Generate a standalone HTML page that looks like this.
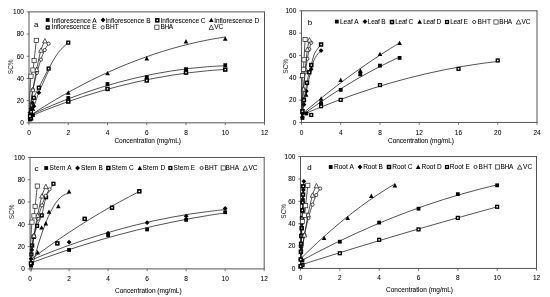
<!DOCTYPE html>
<html lang="en">
<head>
<meta charset="utf-8">
<title>SC% vs Concentration</title>
<style>
html,body{margin:0;padding:0;background:#fff;}
body{width:550px;height:297px;overflow:hidden;}
svg{display:block;}
svg text{font-family:"Liberation Sans",Arial,Helvetica,sans-serif;font-size:6.5px;fill:#000;stroke:#000;stroke-width:0.05px;}
</style>
</head>
<body>
<svg width="550" height="297" viewBox="0 0 550 297">
<rect x="0" y="0" width="550" height="297" fill="#fff"/>
<g class="panel">
<path d="M28.5,11.9H265M28.5,122.85H265M29,11.9V122.85M264.5,11.9V122.85" stroke="#545454" stroke-width="1" fill="none"/>
<path d="M26.7,122.85H29M26.7,100.66H29M26.7,78.47H29M26.7,56.28H29M26.7,34.09H29M26.7,11.9H29M29,122.85V125.15M68.25,122.85V125.15M107.5,122.85V125.15M146.75,122.85V125.15M186,122.85V125.15M225.25,122.85V125.15M264.5,122.85V125.15" stroke="#555" stroke-width="0.8" fill="none"/>
<text x="23.9" y="125.2" text-anchor="end">0</text>
<text x="23.9" y="103.01" text-anchor="end">20</text>
<text x="23.9" y="80.82" text-anchor="end">40</text>
<text x="23.9" y="58.63" text-anchor="end">60</text>
<text x="23.9" y="36.44" text-anchor="end">80</text>
<text x="23.9" y="14.25" text-anchor="end">100</text>
<text x="29" y="135.35" text-anchor="middle">0</text>
<text x="68.25" y="135.35" text-anchor="middle">2</text>
<text x="107.5" y="135.35" text-anchor="middle">4</text>
<text x="146.75" y="135.35" text-anchor="middle">6</text>
<text x="186" y="135.35" text-anchor="middle">8</text>
<text x="225.25" y="135.35" text-anchor="middle">10</text>
<text x="264.5" y="135.35" text-anchor="middle">12</text>
<text x="114.4" y="143.3" textLength="66.6" lengthAdjust="spacing">Concentration (mg/mL)</text>
<text transform="translate(12.6,66.8) rotate(-90)" text-anchor="middle" style="fill:#222;stroke:none">SC%</text>
<text x="34" y="26.8" style="font-size:7.9px">a</text>
<path d="M29,115.64C31.97,114.29 40.89,110.15 46.84,107.58C52.79,105.01 58.73,102.55 64.68,100.22C70.63,97.88 76.58,95.67 82.52,93.57C88.47,91.47 94.42,89.48 100.36,87.62C106.31,85.75 112.26,84.01 118.2,82.38C124.15,80.75 130.1,79.23 136.05,77.84C141.99,76.44 147.94,75.16 153.89,74C159.83,72.84 165.78,71.8 171.73,70.88C177.67,69.95 183.62,69.14 189.57,68.45C195.52,67.76 201.46,67.19 207.41,66.73C213.36,66.27 222.28,65.88 225.25,65.72" stroke="#1a1a1a" stroke-width="0.75" fill="none"/>
<rect x="28.08" y="117.62" width="3.8" height="3.8" fill="#000"/><rect x="29.06" y="115.4" width="3.8" height="3.8" fill="#000"/><rect x="31.02" y="113.18" width="3.8" height="3.8" fill="#000"/><rect x="66.35" y="96.1" width="3.8" height="3.8" fill="#000"/><rect x="105.6" y="82.12" width="3.8" height="3.8" fill="#000"/><rect x="144.85" y="75.35" width="3.8" height="3.8" fill="#000"/><rect x="184.1" y="67.25" width="3.8" height="3.8" fill="#000"/><rect x="223.35" y="63.26" width="3.8" height="3.8" fill="#000"/>
<path d="M29,116.75C31.97,115.54 40.89,111.81 46.84,109.49C52.79,107.16 58.73,104.94 64.68,102.82C70.63,100.69 76.58,98.66 82.52,96.74C88.47,94.81 94.42,92.98 100.36,91.25C106.31,89.52 112.26,87.89 118.2,86.36C124.15,84.82 130.1,83.39 136.05,82.06C141.99,80.72 147.94,79.48 153.89,78.35C159.83,77.21 165.78,76.17 171.73,75.23C177.67,74.29 183.62,73.45 189.57,72.7C195.52,71.96 201.46,71.32 207.41,70.77C213.36,70.23 222.28,69.65 225.25,69.43" stroke="#1a1a1a" stroke-width="0.75" fill="none"/>
<rect x="28.71" y="116.16" width="4.5" height="4.5" fill="#000"/><rect x="30.26" y="117.71" width="1.4" height="1.4" fill="#fff"/><rect x="66" y="99.3" width="4.5" height="4.5" fill="#000"/><rect x="67.55" y="100.85" width="1.4" height="1.4" fill="#fff"/><rect x="105.25" y="86.65" width="4.5" height="4.5" fill="#000"/><rect x="106.8" y="88.2" width="1.4" height="1.4" fill="#fff"/><rect x="144.5" y="78.22" width="4.5" height="4.5" fill="#000"/><rect x="146.05" y="79.77" width="1.4" height="1.4" fill="#fff"/><rect x="183.75" y="70.34" width="4.5" height="4.5" fill="#000"/><rect x="185.3" y="71.89" width="1.4" height="1.4" fill="#fff"/><rect x="223" y="67.34" width="4.5" height="4.5" fill="#000"/><rect x="224.55" y="68.89" width="1.4" height="1.4" fill="#fff"/>
<path d="M29,116.19C31.97,114.31 40.89,108.5 46.84,104.87C52.79,101.23 58.73,97.73 64.68,94.37C70.63,91 76.58,87.78 82.52,84.69C88.47,81.6 94.42,78.65 100.36,75.84C106.31,73.02 112.26,70.35 118.2,67.81C124.15,65.27 130.1,62.87 136.05,60.61C141.99,58.34 147.94,56.22 153.89,54.23C159.83,52.24 165.78,50.39 171.73,48.67C177.67,46.96 183.62,45.38 189.57,43.94C195.52,42.5 201.46,41.2 207.41,40.04C213.36,38.87 222.28,37.47 225.25,36.96" stroke="#1a1a1a" stroke-width="0.75" fill="none"/>
<polygon points="29.98,113.99 32.28,118.39 27.68,118.39" fill="#000"/><polygon points="30.96,110.66 33.26,115.06 28.66,115.06" fill="#000"/><polygon points="32.92,106.23 35.22,110.63 30.62,110.63" fill="#000"/><polygon points="68.25,90.36 70.55,94.76 65.95,94.76" fill="#000"/><polygon points="107.5,70.94 109.8,75.34 105.2,75.34" fill="#000"/><polygon points="146.75,56.08 149.05,60.48 144.45,60.48" fill="#000"/><polygon points="186,39.1 188.3,43.5 183.7,43.5" fill="#000"/><polygon points="225.25,36.33 227.55,40.73 222.95,40.73" fill="#000"/>
<path d="M29.98,112.86C30.14,112.31 30.31,110.65 30.96,109.54C31.62,108.43 32.6,109.02 33.91,106.21C35.21,103.4 36.36,98.59 38.81,92.67C41.27,86.75 46.99,74.36 48.62,70.7" stroke="#1a1a1a" stroke-width="0.75" fill="none"/>
<polygon points="29.98,110.46 32.38,112.86 29.98,115.26 27.58,112.86" fill="#000"/><polygon points="30.96,106.03 33.36,108.43 30.96,110.83 28.56,108.43" fill="#000"/><polygon points="32.53,100.48 34.93,102.88 32.53,105.28 30.13,102.88" fill="#000"/><polygon points="33.91,103.81 36.31,106.21 33.91,108.61 31.51,106.21" fill="#000"/><polygon points="38.81,90.27 41.21,92.67 38.81,95.07 36.41,92.67" fill="#000"/>
<path d="M29.98,116.19C30.14,115.45 30.31,114.82 30.96,111.75C31.62,108.69 32.6,101.79 33.91,97.78C35.21,93.76 36.36,92.54 38.81,87.68C41.27,82.82 45.35,74.48 48.62,68.6C51.9,62.72 55.17,56.72 58.44,52.4C61.71,48.07 66.61,44.26 68.25,42.63" stroke="#1a1a1a" stroke-width="0.75" fill="none"/>
<rect x="27.88" y="114.09" width="4.2" height="4.2" fill="#000"/><rect x="29.23" y="115.44" width="1.5" height="1.5" fill="#fff"/><rect x="28.86" y="109.66" width="4.2" height="4.2" fill="#000"/><rect x="30.21" y="111" width="1.5" height="1.5" fill="#fff"/><rect x="31.81" y="95.68" width="4.2" height="4.2" fill="#000"/><rect x="33.16" y="97.03" width="1.5" height="1.5" fill="#fff"/><rect x="36.71" y="85.58" width="4.2" height="4.2" fill="#000"/><rect x="38.06" y="86.93" width="1.5" height="1.5" fill="#fff"/><rect x="46.52" y="66.5" width="4.2" height="4.2" fill="#000"/><rect x="47.88" y="67.85" width="1.5" height="1.5" fill="#fff"/><rect x="66.15" y="40.53" width="4.2" height="4.2" fill="#000"/><rect x="67.5" y="41.88" width="1.5" height="1.5" fill="#fff"/>
<path d="M29.98,109.54C30.14,108.43 30.47,106.21 30.96,102.88C31.45,99.55 31.94,94.56 32.92,89.56C33.91,84.57 35.51,77.92 36.85,72.92C38.19,67.93 39.66,63.42 40.97,59.61C42.28,55.8 43.42,52.73 44.7,50.07C45.98,47.4 47.97,44.7 48.62,43.63" stroke="#1a1a1a" stroke-width="0.75" fill="none"/>
<circle cx="32.92" cy="89.56" r="1.6" fill="#fff" stroke="#111" stroke-width="0.75"/><circle cx="36.85" cy="72.92" r="1.6" fill="#fff" stroke="#111" stroke-width="0.75"/><circle cx="40.97" cy="59.61" r="1.6" fill="#fff" stroke="#111" stroke-width="0.75"/><circle cx="44.7" cy="50.07" r="1.6" fill="#fff" stroke="#111" stroke-width="0.75"/><circle cx="48.62" cy="43.63" r="1.6" fill="#fff" stroke="#111" stroke-width="0.75"/>
<path d="M29.98,111.75C30.14,110.28 30.47,106.58 30.96,102.88C31.45,99.18 31.98,95.15 32.92,89.56C33.87,83.98 35.31,75.96 36.65,69.37C37.99,62.79 39.6,54.84 40.97,50.07C42.34,45.3 44.24,42.3 44.9,40.75" stroke="#1a1a1a" stroke-width="0.75" fill="none"/>
<polygon points="32.92,87.36 35.22,91.77 30.62,91.77" fill="#fff" stroke="#111" stroke-width="0.7"/><polygon points="36.65,67.17 38.95,71.57 34.35,71.57" fill="#fff" stroke="#111" stroke-width="0.7"/><polygon points="40.97,47.87 43.27,52.27 38.67,52.27" fill="#fff" stroke="#111" stroke-width="0.7"/><polygon points="44.9,38.55 47.2,42.95 42.6,42.95" fill="#fff" stroke="#111" stroke-width="0.7"/>
<path d="M29.39,107.32C29.49,104.73 29.72,96.96 29.98,91.78C30.24,86.61 30.47,79.88 30.96,76.25C31.45,72.63 32.4,72.65 32.92,70.04C33.45,67.43 33.55,65.54 34.1,60.61C34.66,55.67 35.9,43.78 36.26,40.41" stroke="#1a1a1a" stroke-width="0.75" fill="none"/>
<rect x="28.86" y="74.15" width="4.2" height="4.2" fill="#fff" stroke="#222" stroke-width="0.7"/><rect x="30.82" y="67.94" width="4.2" height="4.2" fill="#fff" stroke="#222" stroke-width="0.7"/><rect x="32" y="58.51" width="4.2" height="4.2" fill="#fff" stroke="#222" stroke-width="0.7"/><rect x="34.16" y="38.31" width="4.2" height="4.2" fill="#fff" stroke="#222" stroke-width="0.7"/>
<rect x="45.8" y="18.1" width="3.8" height="3.8" fill="#000"/>
<text x="51.55" y="22.5" textLength="45.1" lengthAdjust="spacing">Inflorescence A</text>
<polygon points="103,17.6 105.4,20 103,22.4 100.6,20" fill="#000"/>
<text x="105.55" y="22.5" textLength="45" lengthAdjust="spacing">Inflorescence B</text>
<rect x="155.05" y="18.05" width="4.5" height="4.5" fill="#000"/><rect x="156.6" y="19.6" width="1.4" height="1.4" fill="#fff"/>
<text x="160.55" y="22.5" textLength="45" lengthAdjust="spacing">Inflorescence C</text>
<polygon points="211.3,17.7 213.6,22.1 209,22.1" fill="#000"/>
<text x="214.15" y="22.5" textLength="45" lengthAdjust="spacing">Inflorescence D</text>
<rect x="45.6" y="25.4" width="4.2" height="4.2" fill="#000"/><rect x="46.95" y="26.75" width="1.5" height="1.5" fill="#fff"/>
<text x="51.55" y="29.2" textLength="45.1" lengthAdjust="spacing">Inflorescence E</text>
<circle cx="102.7" cy="27.4" r="1.6" fill="#fff" stroke="#111" stroke-width="0.75"/>
<text x="105.55" y="29.2" textLength="13.2" lengthAdjust="spacing">BHT</text>
<rect x="154.8" y="25.1" width="4.2" height="4.2" fill="#fff" stroke="#222" stroke-width="0.7"/>
<text x="160.55" y="29.2" textLength="12.6" lengthAdjust="spacing">BHA</text>
<polygon points="211.3,25 213.6,29.4 209,29.4" fill="#fff" stroke="#111" stroke-width="0.7"/>
<text x="214.15" y="29.2" textLength="9" lengthAdjust="spacing">VC</text>
</g>
<g class="panel">
<path d="M300.95,10.8H537.5M300.95,122.45H537.5M301.45,10.8V122.45M537,10.8V122.45" stroke="#545454" stroke-width="1" fill="none"/>
<path d="M299.15,122.45H301.45M299.15,100.12H301.45M299.15,77.79H301.45M299.15,55.46H301.45M299.15,33.13H301.45M299.15,10.8H301.45M301.45,122.45V124.75M340.71,122.45V124.75M379.97,122.45V124.75M419.23,122.45V124.75M458.48,122.45V124.75M497.74,122.45V124.75M537,122.45V124.75" stroke="#555" stroke-width="0.8" fill="none"/>
<text x="296.35" y="124.8" text-anchor="end">0</text>
<text x="296.35" y="102.47" text-anchor="end">20</text>
<text x="296.35" y="80.14" text-anchor="end">40</text>
<text x="296.35" y="57.81" text-anchor="end">60</text>
<text x="296.35" y="35.48" text-anchor="end">80</text>
<text x="296.35" y="13.15" text-anchor="end">100</text>
<text x="301.45" y="134.75" text-anchor="middle">0</text>
<text x="340.71" y="134.75" text-anchor="middle">4</text>
<text x="379.97" y="134.75" text-anchor="middle">8</text>
<text x="419.23" y="134.75" text-anchor="middle">12</text>
<text x="458.48" y="134.75" text-anchor="middle">16</text>
<text x="497.74" y="134.75" text-anchor="middle">20</text>
<text x="537" y="134.75" text-anchor="middle">24</text>
<text x="388" y="142.9" textLength="66" lengthAdjust="spacing">Concentration (mg/mL)</text>
<text transform="translate(288,66.3) rotate(-90)" text-anchor="middle" style="fill:#222;stroke:none">SC%</text>
<text x="307.8" y="25" style="font-size:7.9px">b</text>
<path d="M301.45,115.19C304.42,113.94 313.35,110.11 319.29,107.7C325.24,105.29 331.19,102.97 337.14,100.73C343.09,98.5 349.04,96.35 354.98,94.28C360.93,92.22 366.88,90.24 372.83,88.35C378.78,86.46 384.73,84.66 390.67,82.95C396.62,81.23 402.57,79.6 408.52,78.06C414.47,76.51 420.41,75.06 426.36,73.69C432.31,72.32 438.26,71.04 444.21,69.84C450.16,68.65 456.1,67.54 462.05,66.51C468,65.49 473.95,64.56 479.9,63.71C485.85,62.86 494.77,61.8 497.74,61.42" stroke="#1a1a1a" stroke-width="0.75" fill="none"/>
<rect x="309.16" y="112.87" width="4.2" height="4.2" fill="#000"/><rect x="310.51" y="114.22" width="1.5" height="1.5" fill="#fff"/><rect x="318.98" y="104.16" width="4.2" height="4.2" fill="#000"/><rect x="320.33" y="105.51" width="1.5" height="1.5" fill="#fff"/><rect x="338.61" y="97.8" width="4.2" height="4.2" fill="#000"/><rect x="339.96" y="99.15" width="1.5" height="1.5" fill="#fff"/><rect x="377.87" y="82.95" width="4.2" height="4.2" fill="#000"/><rect x="379.22" y="84.3" width="1.5" height="1.5" fill="#fff"/><rect x="456.38" y="66.76" width="4.2" height="4.2" fill="#000"/><rect x="457.73" y="68.11" width="1.5" height="1.5" fill="#fff"/><rect x="495.64" y="58.38" width="4.2" height="4.2" fill="#000"/><rect x="496.99" y="59.73" width="1.5" height="1.5" fill="#fff"/>
<path d="M301.45,115.75C302.94,114.67 307.4,111.37 310.37,109.24C313.35,107.11 316.32,105.02 319.29,102.97C322.27,100.91 325.24,98.9 328.22,96.92C331.19,94.95 334.17,93.01 337.14,91.12C340.11,89.22 343.09,87.36 346.06,85.54C349.04,83.72 352.01,81.94 354.98,80.2C357.96,78.46 360.93,76.76 363.91,75.1C366.88,73.44 369.85,71.81 372.83,70.23C375.8,68.64 378.78,67.1 381.75,65.59C384.73,64.08 387.7,62.62 390.67,61.19C393.65,59.76 398.11,57.72 399.6,57.02" stroke="#1a1a1a" stroke-width="0.75" fill="none"/>
<rect x="300.53" y="116.08" width="3.8" height="3.8" fill="#000"/><rect x="304.46" y="111.62" width="3.8" height="3.8" fill="#000"/><rect x="319.18" y="101.57" width="3.8" height="3.8" fill="#000"/><rect x="338.81" y="87.95" width="3.8" height="3.8" fill="#000"/><rect x="358.44" y="71.42" width="3.8" height="3.8" fill="#000"/><rect x="378.07" y="63.72" width="3.8" height="3.8" fill="#000"/><rect x="397.7" y="56.02" width="3.8" height="3.8" fill="#000"/>
<path d="M301.45,114.63C302.94,113.37 307.4,109.53 310.37,107.04C313.35,104.54 316.32,102.08 319.29,99.66C322.27,97.23 325.24,94.84 328.22,92.49C331.19,90.14 334.17,87.82 337.14,85.54C340.11,83.26 343.09,81.01 346.06,78.8C349.04,76.59 352.01,74.42 354.98,72.28C357.96,70.14 360.93,68.04 363.91,65.97C366.88,63.91 369.85,61.88 372.83,59.88C375.8,57.89 378.78,55.93 381.75,54C384.73,52.08 387.7,50.19 390.67,48.34C393.65,46.49 398.11,43.8 399.6,42.89" stroke="#1a1a1a" stroke-width="0.75" fill="none"/>
<polygon points="302.43,113.55 304.73,117.95 300.13,117.95" fill="#000"/><polygon points="303.61,96.8 305.91,101.2 301.31,101.2" fill="#000"/><polygon points="306.16,92.34 308.46,96.74 303.86,96.74" fill="#000"/><polygon points="321.08,99.59 323.38,103.99 318.78,103.99" fill="#000"/><polygon points="321.08,96.36 323.38,100.76 318.78,100.76" fill="#000"/><polygon points="340.71,77.49 343.01,81.89 338.41,81.89" fill="#000"/><polygon points="360.34,71.79 362.64,76.19 358.04,76.19" fill="#000"/><polygon points="360.34,68.33 362.64,72.73 358.04,72.73" fill="#000"/><polygon points="379.97,51.7 382.27,56.1 377.67,56.1" fill="#000"/><polygon points="399.6,40.64 401.9,45.04 397.3,45.04" fill="#000"/>
<path d="M302.43,113.52C302.68,112.03 303.25,108.31 303.9,104.59C304.56,100.86 305.13,97.09 306.36,91.19C307.58,85.29 309.79,74.78 311.26,69.19C312.74,63.61 313.55,60.8 315.19,57.69C316.83,54.59 320.1,51.74 321.08,50.55" stroke="#1a1a1a" stroke-width="0.75" fill="none"/>
<polygon points="302.43,111.12 304.83,113.52 302.43,115.92 300.03,113.52" fill="#000"/><polygon points="303.9,102.19 306.3,104.59 303.9,106.99 301.5,104.59" fill="#000"/><polygon points="306.36,88.79 308.76,91.19 306.36,93.59 303.96,91.19" fill="#000"/><polygon points="311.26,66.79 313.66,69.19 311.26,71.59 308.86,69.19" fill="#000"/><polygon points="321.08,48.15 323.48,50.55 321.08,52.95 318.68,50.55" fill="#000"/>
<path d="M302.43,111.28C302.68,109.42 303.15,104.87 303.9,100.12C304.66,95.37 306.05,87.47 306.95,82.81C307.85,78.16 308.58,75.17 309.3,72.21C310.02,69.25 310.36,68.23 311.26,65.06C312.16,61.9 313.06,56.65 314.7,53.23C316.34,49.8 320.02,45.97 321.08,44.52" stroke="#1a1a1a" stroke-width="0.75" fill="none"/>
<rect x="300.18" y="109.03" width="4.5" height="4.5" fill="#000"/><rect x="301.73" y="110.58" width="1.4" height="1.4" fill="#fff"/><rect x="301.65" y="97.87" width="4.5" height="4.5" fill="#000"/><rect x="303.2" y="99.42" width="1.4" height="1.4" fill="#fff"/><rect x="304.7" y="80.56" width="4.5" height="4.5" fill="#000"/><rect x="306.25" y="82.11" width="1.4" height="1.4" fill="#fff"/><rect x="307.05" y="69.96" width="4.5" height="4.5" fill="#000"/><rect x="308.6" y="71.51" width="1.4" height="1.4" fill="#fff"/><rect x="309.01" y="62.81" width="4.5" height="4.5" fill="#000"/><rect x="310.56" y="64.36" width="1.4" height="1.4" fill="#fff"/><rect x="318.83" y="42.27" width="4.5" height="4.5" fill="#000"/><rect x="320.38" y="43.82" width="1.4" height="1.4" fill="#fff"/>
<path d="M301.94,109.05C302.02,107.94 302.19,105.7 302.43,102.35C302.68,99 302.92,93.98 303.41,88.96C303.9,83.93 304.71,77.23 305.38,72.21C306.05,67.18 306.78,62.64 307.44,58.81C308.09,54.98 308.66,51.89 309.3,49.21C309.94,46.53 310.94,43.81 311.26,42.73" stroke="#1a1a1a" stroke-width="0.75" fill="none"/>
<circle cx="303.41" cy="88.96" r="1.6" fill="#fff" stroke="#111" stroke-width="0.75"/><circle cx="305.38" cy="72.21" r="1.6" fill="#fff" stroke="#111" stroke-width="0.75"/><circle cx="307.44" cy="58.81" r="1.6" fill="#fff" stroke="#111" stroke-width="0.75"/><circle cx="309.3" cy="49.21" r="1.6" fill="#fff" stroke="#111" stroke-width="0.75"/><circle cx="311.26" cy="42.73" r="1.6" fill="#fff" stroke="#111" stroke-width="0.75"/>
<path d="M301.94,111.28C302.02,109.8 302.19,106.07 302.43,102.35C302.68,98.63 302.94,94.57 303.41,88.96C303.89,83.34 304.61,75.26 305.28,68.63C305.95,62.01 306.75,54.01 307.44,49.21C308.12,44.41 309.07,41.39 309.4,39.83" stroke="#1a1a1a" stroke-width="0.75" fill="none"/>
<polygon points="303.41,86.76 305.71,91.16 301.11,91.16" fill="#fff" stroke="#111" stroke-width="0.7"/><polygon points="305.28,66.43 307.58,70.83 302.98,70.83" fill="#fff" stroke="#111" stroke-width="0.7"/><polygon points="307.44,47.01 309.74,51.41 305.14,51.41" fill="#fff" stroke="#111" stroke-width="0.7"/><polygon points="309.4,37.63 311.7,42.03 307.1,42.03" fill="#fff" stroke="#111" stroke-width="0.7"/>
<path d="M301.65,106.82C301.7,104.21 301.81,96.4 301.94,91.19C302.07,85.98 302.19,79.2 302.43,75.56C302.68,71.91 303.15,71.93 303.41,69.3C303.67,66.68 303.72,64.78 304,59.81C304.28,54.85 304.9,42.88 305.08,39.49" stroke="#1a1a1a" stroke-width="0.75" fill="none"/>
<rect x="300.33" y="73.46" width="4.2" height="4.2" fill="#fff" stroke="#222" stroke-width="0.7"/><rect x="301.31" y="67.2" width="4.2" height="4.2" fill="#fff" stroke="#222" stroke-width="0.7"/><rect x="301.9" y="57.71" width="4.2" height="4.2" fill="#fff" stroke="#222" stroke-width="0.7"/><rect x="302.98" y="37.39" width="4.2" height="4.2" fill="#fff" stroke="#222" stroke-width="0.7"/>
<rect x="334.9" y="19.7" width="3.8" height="3.8" fill="#000"/>
<text x="339.95" y="23.7" textLength="18.6" lengthAdjust="spacing">Leaf A</text>
<polygon points="365,19.2 367.4,21.6 365,24 362.6,21.6" fill="#000"/>
<text x="367.75" y="23.7" textLength="17.8" lengthAdjust="spacing">Leaf B</text>
<rect x="389.75" y="19.75" width="4.5" height="4.5" fill="#000"/><rect x="391.3" y="21.3" width="1.4" height="1.4" fill="#fff"/>
<text x="395.15" y="23.7" textLength="18" lengthAdjust="spacing">Leaf C</text>
<polygon points="419.7,19.4 422,23.8 417.4,23.8" fill="#000"/>
<text x="423.15" y="23.7" textLength="18" lengthAdjust="spacing">Leaf D</text>
<rect x="444.9" y="19.9" width="4.2" height="4.2" fill="#000"/><rect x="446.25" y="21.25" width="1.5" height="1.5" fill="#fff"/>
<text x="450.15" y="23.7" textLength="17.8" lengthAdjust="spacing">Leaf E</text>
<circle cx="474.2" cy="22" r="1.6" fill="#fff" stroke="#111" stroke-width="0.75"/>
<text x="477.55" y="23.7" textLength="13.4" lengthAdjust="spacing">BHT</text>
<rect x="493.9" y="19.9" width="4.2" height="4.2" fill="#fff" stroke="#222" stroke-width="0.7"/>
<text x="499.35" y="23.7" textLength="12.8" lengthAdjust="spacing">BHA</text>
<polygon points="518.5,19.6 520.8,24 516.2,24" fill="#fff" stroke="#111" stroke-width="0.7"/>
<text x="521.55" y="23.7" textLength="8.8" lengthAdjust="spacing">VC</text>
</g>
<g class="panel">
<path d="M29.55,157.45H264.7M29.55,268.9H264.7M30.05,157.45V268.9M264.2,157.45V268.9" stroke="#545454" stroke-width="1" fill="none"/>
<path d="M27.75,268.9H30.05M27.75,246.61H30.05M27.75,224.32H30.05M27.75,202.03H30.05M27.75,179.74H30.05M27.75,157.45H30.05M30.05,268.9V271.2M69.08,268.9V271.2M108.1,268.9V271.2M147.12,268.9V271.2M186.15,268.9V271.2M225.18,268.9V271.2M264.2,268.9V271.2" stroke="#555" stroke-width="0.8" fill="none"/>
<text x="24.95" y="271.25" text-anchor="end">0</text>
<text x="24.95" y="248.96" text-anchor="end">20</text>
<text x="24.95" y="226.67" text-anchor="end">40</text>
<text x="24.95" y="204.38" text-anchor="end">60</text>
<text x="24.95" y="182.09" text-anchor="end">80</text>
<text x="24.95" y="159.8" text-anchor="end">100</text>
<text x="30.05" y="280.85" text-anchor="middle">0</text>
<text x="69.08" y="280.85" text-anchor="middle">2</text>
<text x="108.1" y="280.85" text-anchor="middle">4</text>
<text x="147.12" y="280.85" text-anchor="middle">6</text>
<text x="186.15" y="280.85" text-anchor="middle">8</text>
<text x="225.18" y="280.85" text-anchor="middle">10</text>
<text x="264.2" y="280.85" text-anchor="middle">12</text>
<text x="115" y="292.7" textLength="66.6" lengthAdjust="spacing">Concentration (mg/mL)</text>
<text transform="translate(13.8,211.8) rotate(-90)" text-anchor="middle" style="fill:#222;stroke:none">SC%</text>
<text x="34.6" y="170.9" style="font-size:7.9px">c</text>
<path d="M30.05,263.33C33.01,262.25 41.88,258.95 47.79,256.86C53.7,254.76 59.61,252.73 65.53,250.76C71.44,248.8 77.35,246.89 83.27,245.05C89.18,243.21 95.09,241.43 101,239.71C106.92,237.99 112.83,236.34 118.74,234.75C124.66,233.16 130.57,231.63 136.48,230.17C142.39,228.7 148.31,227.3 154.22,225.96C160.13,224.62 166.05,223.34 171.96,222.13C177.87,220.92 183.78,219.77 189.7,218.68C195.61,217.59 201.52,216.57 207.44,215.6C213.35,214.64 222.22,213.36 225.18,212.91" stroke="#1a1a1a" stroke-width="0.75" fill="none"/>
<rect x="29.13" y="263.66" width="3.8" height="3.8" fill="#000"/><rect x="30.1" y="261.43" width="3.8" height="3.8" fill="#000"/><rect x="67.17" y="248.05" width="3.8" height="3.8" fill="#000"/><rect x="106.2" y="233.34" width="3.8" height="3.8" fill="#000"/><rect x="145.22" y="227.55" width="3.8" height="3.8" fill="#000"/><rect x="184.25" y="217.96" width="3.8" height="3.8" fill="#000"/><rect x="223.28" y="210.38" width="3.8" height="3.8" fill="#000"/>
<path d="M30.05,260.54C33.01,259.33 41.88,255.61 47.79,253.28C53.7,250.94 59.61,248.69 65.53,246.54C71.44,244.38 77.35,242.31 83.27,240.32C89.18,238.34 95.09,236.44 101,234.64C106.92,232.83 112.83,231.11 118.74,229.48C124.66,227.85 130.57,226.3 136.48,224.84C142.39,223.39 148.31,222.02 154.22,220.74C160.13,219.46 166.05,218.26 171.96,217.16C177.87,216.05 183.78,215.03 189.7,214.1C195.61,213.17 201.52,212.33 207.44,211.58C213.35,210.82 222.22,209.91 225.18,209.57" stroke="#1a1a1a" stroke-width="0.75" fill="none"/>
<polygon points="31.03,256.47 33.43,258.87 31.03,261.27 28.63,258.87" fill="#000"/><polygon points="31.81,247.55 34.21,249.95 31.81,252.35 29.41,249.95" fill="#000"/><polygon points="69.08,239.75 71.48,242.15 69.08,244.55 66.67,242.15" fill="#000"/><polygon points="108.1,230.84 110.5,233.24 108.1,235.64 105.7,233.24" fill="#000"/><polygon points="147.12,220.25 149.53,222.65 147.12,225.05 144.72,222.65" fill="#000"/><polygon points="186.15,213.78 188.55,216.18 186.15,218.58 183.75,216.18" fill="#000"/><polygon points="225.18,206.09 227.58,208.49 225.18,210.89 222.78,208.49" fill="#000"/>
<path d="M30.05,259.98C31.71,258.76 36.67,255.05 39.98,252.64C43.29,250.22 46.61,247.85 49.92,245.51C53.23,243.18 56.54,240.88 59.85,238.62C63.16,236.36 66.47,234.13 69.78,231.95C73.1,229.76 76.41,227.61 79.72,225.5C83.03,223.39 86.34,221.31 89.65,219.28C92.96,217.24 96.27,215.24 99.59,213.28C102.9,211.32 106.21,209.4 109.52,207.51C112.83,205.63 116.14,203.78 119.45,201.97C122.76,200.16 126.08,198.38 129.39,196.65C132.7,194.91 137.66,192.4 139.32,191.55" stroke="#1a1a1a" stroke-width="0.75" fill="none"/>
<rect x="55.12" y="241.13" width="4.5" height="4.5" fill="#000"/><rect x="56.67" y="242.68" width="1.4" height="1.4" fill="#fff"/><rect x="82.43" y="216.61" width="4.5" height="4.5" fill="#000"/><rect x="83.98" y="218.16" width="1.4" height="1.4" fill="#fff"/><rect x="109.75" y="205.46" width="4.5" height="4.5" fill="#000"/><rect x="111.3" y="207.01" width="1.4" height="1.4" fill="#fff"/><rect x="137.07" y="189.08" width="4.5" height="4.5" fill="#000"/><rect x="138.62" y="190.63" width="1.4" height="1.4" fill="#fff"/>
<path d="M31.03,271.59C31.6,269.33 33.33,262.32 34.48,258C35.64,253.69 36.79,249.59 37.94,245.71C39.1,241.83 40.25,238.17 41.4,234.72C42.56,231.27 43.71,228.04 44.86,225.03C46.01,222.01 47.17,219.21 48.32,216.63C49.47,214.05 50.63,211.69 51.78,209.54C52.93,207.39 54.09,205.46 55.24,203.75C56.39,202.03 57.54,200.54 58.7,199.26C59.85,197.98 61,196.91 62.16,196.06C63.31,195.22 64.46,194.58 65.62,194.17C66.77,193.76 68.5,193.68 69.08,193.58" stroke="#1a1a1a" stroke-width="0.75" fill="none"/>
<polygon points="37.66,250.09 39.96,254.49 35.36,254.49" fill="#000"/><polygon points="41.56,225.13 43.86,229.53 39.26,229.53" fill="#000"/><polygon points="45.86,221.01 48.16,225.41 43.56,225.41" fill="#000"/><polygon points="48.98,209.41 51.28,213.81 46.68,213.81" fill="#000"/><polygon points="58.34,203.84 60.64,208.24 56.04,208.24" fill="#000"/><polygon points="69.08,189.13 71.38,193.53 66.78,193.53" fill="#000"/>
<path d="M30.83,263.33C30.93,261.84 31.19,257.38 31.42,254.41C31.64,251.44 31.81,248.41 32.2,245.5C32.59,242.58 32.94,240.18 33.76,236.91C34.57,233.64 35.74,229.47 37.07,225.88C38.41,222.3 40.26,220.18 41.76,215.4C43.25,210.63 44.1,202.51 46.05,197.24C48,191.96 52.23,186 53.46,183.75" stroke="#1a1a1a" stroke-width="0.75" fill="none"/>
<rect x="28.73" y="261.23" width="4.2" height="4.2" fill="#000"/><rect x="30.08" y="262.58" width="1.5" height="1.5" fill="#fff"/><rect x="29.32" y="252.31" width="4.2" height="4.2" fill="#000"/><rect x="30.67" y="253.66" width="1.5" height="1.5" fill="#fff"/><rect x="30.1" y="243.4" width="4.2" height="4.2" fill="#000"/><rect x="31.45" y="244.75" width="1.5" height="1.5" fill="#fff"/><rect x="31.66" y="234.81" width="4.2" height="4.2" fill="#000"/><rect x="33.01" y="236.16" width="1.5" height="1.5" fill="#fff"/><rect x="34.97" y="223.78" width="4.2" height="4.2" fill="#000"/><rect x="36.32" y="225.13" width="1.5" height="1.5" fill="#fff"/><rect x="39.66" y="213.3" width="4.2" height="4.2" fill="#000"/><rect x="41.01" y="214.65" width="1.5" height="1.5" fill="#fff"/><rect x="43.95" y="195.14" width="4.2" height="4.2" fill="#000"/><rect x="45.3" y="196.49" width="1.5" height="1.5" fill="#fff"/><rect x="51.36" y="181.65" width="4.2" height="4.2" fill="#000"/><rect x="52.71" y="183" width="1.5" height="1.5" fill="#fff"/>
<path d="M31.03,255.53C31.19,254.41 31.51,252.18 32,248.84C32.49,245.5 32.98,240.48 33.95,235.46C34.93,230.45 36.52,223.76 37.86,218.75C39.19,213.73 40.65,209.2 41.95,205.37C43.25,201.55 44.39,198.46 45.66,195.79C46.93,193.11 48.91,190.4 49.56,189.32" stroke="#1a1a1a" stroke-width="0.75" fill="none"/>
<circle cx="33.95" cy="235.46" r="1.6" fill="#fff" stroke="#111" stroke-width="0.75"/><circle cx="37.86" cy="218.75" r="1.6" fill="#fff" stroke="#111" stroke-width="0.75"/><circle cx="41.95" cy="205.37" r="1.6" fill="#fff" stroke="#111" stroke-width="0.75"/><circle cx="45.66" cy="195.79" r="1.6" fill="#fff" stroke="#111" stroke-width="0.75"/><circle cx="49.56" cy="189.32" r="1.6" fill="#fff" stroke="#111" stroke-width="0.75"/>
<path d="M31.03,257.75C31.19,256.27 31.51,252.55 32,248.84C32.49,245.12 33.01,241.07 33.95,235.46C34.9,229.86 36.33,221.79 37.66,215.18C38.99,208.57 40.59,200.58 41.95,195.79C43.32,191 45.2,187.99 45.86,186.43" stroke="#1a1a1a" stroke-width="0.75" fill="none"/>
<polygon points="33.95,233.26 36.25,237.66 31.65,237.66" fill="#fff" stroke="#111" stroke-width="0.7"/><polygon points="37.66,212.98 39.96,217.38 35.36,217.38" fill="#fff" stroke="#111" stroke-width="0.7"/><polygon points="41.95,193.59 44.25,197.99 39.65,197.99" fill="#fff" stroke="#111" stroke-width="0.7"/><polygon points="45.86,184.23 48.16,188.63 43.56,188.63" fill="#fff" stroke="#111" stroke-width="0.7"/>
<path d="M30.44,253.3C30.54,250.7 30.77,242.89 31.03,237.69C31.29,232.49 31.51,225.73 32,222.09C32.49,218.45 33.43,218.47 33.95,215.85C34.47,213.23 34.57,211.34 35.12,206.38C35.68,201.42 36.91,189.47 37.27,186.09" stroke="#1a1a1a" stroke-width="0.75" fill="none"/>
<rect x="29.9" y="219.99" width="4.2" height="4.2" fill="#fff" stroke="#222" stroke-width="0.7"/><rect x="31.85" y="213.75" width="4.2" height="4.2" fill="#fff" stroke="#222" stroke-width="0.7"/><rect x="33.02" y="204.28" width="4.2" height="4.2" fill="#fff" stroke="#222" stroke-width="0.7"/><rect x="35.17" y="183.99" width="4.2" height="4.2" fill="#fff" stroke="#222" stroke-width="0.7"/>
<rect x="44.3" y="166.1" width="3.8" height="3.8" fill="#000"/>
<text x="49.55" y="169.7" textLength="22" lengthAdjust="spacing">Stem A</text>
<polygon points="77.6,165.6 80,168 77.6,170.4 75.2,168" fill="#000"/>
<text x="80.95" y="169.7" textLength="21.8" lengthAdjust="spacing">Stem B</text>
<rect x="106.15" y="165.75" width="4.5" height="4.5" fill="#000"/><rect x="107.7" y="167.3" width="1.4" height="1.4" fill="#fff"/>
<text x="111.55" y="169.7" textLength="22.2" lengthAdjust="spacing">Stem C</text>
<polygon points="139.8,165.7 142.1,170.1 137.5,170.1" fill="#000"/>
<text x="142.55" y="169.7" textLength="22.6" lengthAdjust="spacing">Stem D</text>
<rect x="168.3" y="165.9" width="4.2" height="4.2" fill="#000"/><rect x="169.65" y="167.25" width="1.5" height="1.5" fill="#fff"/>
<text x="173.55" y="169.7" textLength="21.6" lengthAdjust="spacing">Stem E</text>
<circle cx="201.6" cy="168" r="1.6" fill="#fff" stroke="#111" stroke-width="0.75"/>
<text x="204.55" y="169.7" textLength="13.2" lengthAdjust="spacing">BHT</text>
<rect x="221.1" y="165.9" width="4.2" height="4.2" fill="#fff" stroke="#222" stroke-width="0.7"/>
<text x="225.55" y="169.7" textLength="13.6" lengthAdjust="spacing">BHA</text>
<polygon points="245.3,165.8 247.6,170.2 243,170.2" fill="#fff" stroke="#111" stroke-width="0.7"/>
<text x="248.55" y="169.7" textLength="9" lengthAdjust="spacing">VC</text>
</g>
<g class="panel">
<path d="M300,156.55H537M300,268.45H537M300.5,156.55V268.45M536.5,156.55V268.45" stroke="#545454" stroke-width="1" fill="none"/>
<path d="M298.2,268.45H300.5M298.2,246.07H300.5M298.2,223.69H300.5M298.2,201.31H300.5M298.2,178.93H300.5M298.2,156.55H300.5M300.5,268.45V270.75M339.83,268.45V270.75M379.17,268.45V270.75M418.5,268.45V270.75M457.83,268.45V270.75M497.17,268.45V270.75M536.5,268.45V270.75" stroke="#555" stroke-width="0.8" fill="none"/>
<text x="295.4" y="270.8" text-anchor="end">0</text>
<text x="295.4" y="248.42" text-anchor="end">20</text>
<text x="295.4" y="226.04" text-anchor="end">40</text>
<text x="295.4" y="203.66" text-anchor="end">60</text>
<text x="295.4" y="181.28" text-anchor="end">80</text>
<text x="295.4" y="158.9" text-anchor="end">100</text>
<text x="300.5" y="280.35" text-anchor="middle">0</text>
<text x="339.83" y="280.35" text-anchor="middle">2</text>
<text x="379.17" y="280.35" text-anchor="middle">4</text>
<text x="418.5" y="280.35" text-anchor="middle">6</text>
<text x="457.83" y="280.35" text-anchor="middle">8</text>
<text x="497.17" y="280.35" text-anchor="middle">10</text>
<text x="536.5" y="280.35" text-anchor="middle">12</text>
<text x="386" y="291.7" textLength="67" lengthAdjust="spacing">Concentration (mg/mL)</text>
<text transform="translate(286,211.3) rotate(-90)" text-anchor="middle" style="fill:#222;stroke:none">SC%</text>
<text x="307.2" y="170.2" style="font-size:7.9px">d</text>
<path d="M300.5,261.18C303.48,259.59 312.42,254.75 318.38,251.67C324.34,248.58 330.3,245.59 336.26,242.67C342.22,239.76 348.18,236.93 354.14,234.19C360.1,231.45 366.06,228.8 372.02,226.23C377.97,223.66 383.93,221.17 389.89,218.78C395.85,216.38 401.81,214.07 407.77,211.84C413.73,209.61 419.69,207.47 425.65,205.42C431.61,203.36 437.57,201.39 443.53,199.51C449.49,197.63 455.45,195.83 461.41,194.12C467.37,192.41 473.33,190.78 479.29,189.24C485.25,187.7 494.19,185.6 497.17,184.87" stroke="#1a1a1a" stroke-width="0.75" fill="none"/>
<rect x="300.57" y="258.72" width="3.8" height="3.8" fill="#000"/><rect x="337.93" y="239.81" width="3.8" height="3.8" fill="#000"/><rect x="377.27" y="220.67" width="3.8" height="3.8" fill="#000"/><rect x="416.6" y="206.8" width="3.8" height="3.8" fill="#000"/><rect x="455.93" y="192.25" width="3.8" height="3.8" fill="#000"/><rect x="495.27" y="183.41" width="3.8" height="3.8" fill="#000"/>
<path d="M300.5,265.09C303.48,264.14 312.42,261.28 318.38,259.4C324.34,257.52 330.3,255.64 336.26,253.79C342.22,251.93 348.18,250.09 354.14,248.25C360.1,246.42 366.06,244.61 372.02,242.8C377.97,241 383.93,239.21 389.89,237.43C395.85,235.65 401.81,233.89 407.77,232.14C413.73,230.39 419.69,228.65 425.65,226.93C431.61,225.21 437.57,223.5 443.53,221.8C449.49,220.1 455.45,218.42 461.41,216.75C467.37,215.08 473.33,213.43 479.29,211.78C485.25,210.14 494.19,207.71 497.17,206.9" stroke="#1a1a1a" stroke-width="0.75" fill="none"/>
<rect x="300.37" y="262.99" width="4.2" height="4.2" fill="#000"/><rect x="301.72" y="264.34" width="1.5" height="1.5" fill="#fff"/><rect x="337.73" y="251.13" width="4.2" height="4.2" fill="#000"/><rect x="339.08" y="252.48" width="1.5" height="1.5" fill="#fff"/><rect x="377.07" y="237.7" width="4.2" height="4.2" fill="#000"/><rect x="378.42" y="239.05" width="1.5" height="1.5" fill="#fff"/><rect x="416.4" y="227.3" width="4.2" height="4.2" fill="#000"/><rect x="417.75" y="228.65" width="1.5" height="1.5" fill="#fff"/><rect x="455.73" y="215.77" width="4.2" height="4.2" fill="#000"/><rect x="457.08" y="217.12" width="1.5" height="1.5" fill="#fff"/><rect x="495.07" y="204.69" width="4.2" height="4.2" fill="#000"/><rect x="496.42" y="206.04" width="1.5" height="1.5" fill="#fff"/>
<path d="M300.5,258.94C301.93,257.53 306.22,253.25 309.08,250.49C311.94,247.73 314.8,245.02 317.66,242.36C320.52,239.71 323.38,237.11 326.25,234.56C329.11,232.02 331.97,229.53 334.83,227.09C337.69,224.66 340.55,222.27 343.41,219.94C346.27,217.62 349.13,215.34 351.99,213.12C354.85,210.9 357.71,208.74 360.57,206.63C363.43,204.52 366.29,202.46 369.15,200.46C372.02,198.46 374.88,196.51 377.74,194.62C380.6,192.72 383.46,190.89 386.32,189.1C389.18,187.32 393.47,184.78 394.9,183.91" stroke="#1a1a1a" stroke-width="0.75" fill="none"/>
<polygon points="324.1,235.7 326.4,240.1 321.8,240.1" fill="#000"/><polygon points="347.7,215.67 350,220.07 345.4,220.07" fill="#000"/><polygon points="371.3,193.52 373.6,197.91 369,197.91" fill="#000"/><polygon points="394.9,183.11 397.2,187.51 392.6,187.51" fill="#000"/>
<path d="M300.7,259.5C300.75,257.45 300.88,251.29 300.99,247.19C301.11,243.09 301.24,238.8 301.38,234.88C301.53,230.96 301.7,227.55 301.88,223.69C302.06,219.83 302.3,215.82 302.47,211.72C302.63,207.61 302.71,202.67 302.86,199.07C303.01,195.47 303.19,193.09 303.35,190.12C303.52,187.15 303.76,182.75 303.84,181.28" stroke="#1a1a1a" stroke-width="0.75" fill="none"/>
<polygon points="300.7,257.1 303.1,259.5 300.7,261.9 298.3,259.5" fill="#000"/><polygon points="300.99,244.79 303.39,247.19 300.99,249.59 298.59,247.19" fill="#000"/><polygon points="301.38,232.48 303.78,234.88 301.38,237.28 298.99,234.88" fill="#000"/><polygon points="301.88,221.29 304.28,223.69 301.88,226.09 299.48,223.69" fill="#000"/><polygon points="302.47,209.32 304.87,211.72 302.47,214.12 300.07,211.72" fill="#000"/><polygon points="302.86,196.67 305.26,199.07 302.86,201.47 300.46,199.07" fill="#000"/><polygon points="303.35,187.72 305.75,190.12 303.35,192.52 300.95,190.12" fill="#000"/><polygon points="303.84,178.88 306.24,181.28 303.84,183.68 301.44,181.28" fill="#000"/>
<path d="M300.6,266.21C300.62,265.09 300.69,261.92 300.74,259.5C300.79,257.07 300.83,254.28 300.89,251.66C300.95,249.05 301.01,246.44 301.09,243.83C301.17,241.22 301.29,238.61 301.38,236C301.48,233.39 301.57,231.15 301.68,228.17C301.79,225.18 301.96,221.08 302.07,218.09C302.19,215.11 302.27,212.87 302.37,210.26C302.47,207.65 302.57,205.04 302.66,202.43C302.76,199.82 302.86,197.28 302.96,194.6C303.06,191.91 303.2,187.7 303.25,186.32" stroke="#1a1a1a" stroke-width="0.75" fill="none"/>
<rect x="298.35" y="263.96" width="4.5" height="4.5" fill="#000"/><rect x="299.9" y="265.51" width="1.4" height="1.4" fill="#fff"/><rect x="298.49" y="257.25" width="4.5" height="4.5" fill="#000"/><rect x="300.04" y="258.8" width="1.4" height="1.4" fill="#fff"/><rect x="298.64" y="249.41" width="4.5" height="4.5" fill="#000"/><rect x="300.19" y="250.97" width="1.4" height="1.4" fill="#fff"/><rect x="298.84" y="241.58" width="4.5" height="4.5" fill="#000"/><rect x="300.39" y="243.13" width="1.4" height="1.4" fill="#fff"/><rect x="299.13" y="233.75" width="4.5" height="4.5" fill="#000"/><rect x="300.69" y="235.3" width="1.4" height="1.4" fill="#fff"/><rect x="299.43" y="225.92" width="4.5" height="4.5" fill="#000"/><rect x="300.98" y="227.47" width="1.4" height="1.4" fill="#fff"/><rect x="299.82" y="215.84" width="4.5" height="4.5" fill="#000"/><rect x="301.37" y="217.4" width="1.4" height="1.4" fill="#fff"/><rect x="300.12" y="208.01" width="4.5" height="4.5" fill="#000"/><rect x="301.67" y="209.56" width="1.4" height="1.4" fill="#fff"/><rect x="300.41" y="200.18" width="4.5" height="4.5" fill="#000"/><rect x="301.96" y="201.73" width="1.4" height="1.4" fill="#fff"/><rect x="300.71" y="192.35" width="4.5" height="4.5" fill="#000"/><rect x="302.26" y="193.9" width="1.4" height="1.4" fill="#fff"/><rect x="301" y="184.07" width="4.5" height="4.5" fill="#000"/><rect x="302.55" y="185.62" width="1.4" height="1.4" fill="#fff"/>
<path d="M301.48,255.02C301.65,253.9 301.97,251.66 302.47,248.31C302.96,244.95 303.45,239.92 304.43,234.88C305.42,229.84 307.02,223.13 308.37,218.09C309.71,213.06 311.19,208.51 312.5,204.67C313.81,200.83 314.96,197.73 316.23,195.04C317.51,192.36 319.51,189.64 320.17,188.55" stroke="#1a1a1a" stroke-width="0.75" fill="none"/>
<circle cx="304.43" cy="234.88" r="1.6" fill="#fff" stroke="#111" stroke-width="0.75"/><circle cx="308.37" cy="218.09" r="1.6" fill="#fff" stroke="#111" stroke-width="0.75"/><circle cx="312.5" cy="204.67" r="1.6" fill="#fff" stroke="#111" stroke-width="0.75"/><circle cx="316.23" cy="195.04" r="1.6" fill="#fff" stroke="#111" stroke-width="0.75"/><circle cx="320.17" cy="188.55" r="1.6" fill="#fff" stroke="#111" stroke-width="0.75"/>
<path d="M301.48,257.26C301.65,255.77 301.97,252.04 302.47,248.31C302.96,244.58 303.48,240.51 304.43,234.88C305.38,229.25 306.83,221.15 308.17,214.51C309.51,207.87 311.12,199.86 312.5,195.04C313.87,190.23 315.77,187.21 316.43,185.64" stroke="#1a1a1a" stroke-width="0.75" fill="none"/>
<polygon points="304.43,232.68 306.73,237.08 302.13,237.08" fill="#fff" stroke="#111" stroke-width="0.7"/><polygon points="308.17,212.31 310.47,216.71 305.87,216.71" fill="#fff" stroke="#111" stroke-width="0.7"/><polygon points="312.5,192.84 314.8,197.24 310.2,197.24" fill="#fff" stroke="#111" stroke-width="0.7"/><polygon points="316.43,183.44 318.73,187.84 314.13,187.84" fill="#fff" stroke="#111" stroke-width="0.7"/>
<path d="M300.89,252.78C300.99,250.17 301.22,242.34 301.48,237.12C301.75,231.9 301.97,225.11 302.47,221.45C302.96,217.8 303.91,217.82 304.43,215.19C304.96,212.56 305.06,210.65 305.61,205.67C306.17,200.69 307.42,188.7 307.78,185.31" stroke="#1a1a1a" stroke-width="0.75" fill="none"/>
<rect x="300.37" y="219.35" width="4.2" height="4.2" fill="#fff" stroke="#222" stroke-width="0.7"/><rect x="302.33" y="213.09" width="4.2" height="4.2" fill="#fff" stroke="#222" stroke-width="0.7"/><rect x="303.51" y="203.57" width="4.2" height="4.2" fill="#fff" stroke="#222" stroke-width="0.7"/><rect x="305.68" y="183.21" width="4.2" height="4.2" fill="#fff" stroke="#222" stroke-width="0.7"/>
<rect x="328.8" y="165.1" width="3.8" height="3.8" fill="#000"/>
<text x="333.95" y="168.7" textLength="19.8" lengthAdjust="spacing">Root A</text>
<polygon points="360,164.6 362.4,167 360,169.4 357.6,167" fill="#000"/>
<text x="363.15" y="168.7" textLength="19.8" lengthAdjust="spacing">Root B</text>
<rect x="386.75" y="164.75" width="4.5" height="4.5" fill="#000"/><rect x="388.3" y="166.3" width="1.4" height="1.4" fill="#fff"/>
<text x="392.15" y="168.7" textLength="20.4" lengthAdjust="spacing">Root C</text>
<polygon points="418.2,164.6 420.5,169 415.9,169" fill="#000"/>
<text x="421.55" y="168.7" textLength="20.2" lengthAdjust="spacing">Root D</text>
<rect x="444.9" y="164.9" width="4.2" height="4.2" fill="#000"/><rect x="446.25" y="166.25" width="1.5" height="1.5" fill="#fff"/>
<text x="449.75" y="168.7" textLength="20.2" lengthAdjust="spacing">Root E</text>
<circle cx="475.5" cy="167" r="1.6" fill="#fff" stroke="#111" stroke-width="0.75"/>
<text x="478.55" y="168.7" textLength="13.6" lengthAdjust="spacing">BHT</text>
<rect x="495.3" y="164.9" width="4.2" height="4.2" fill="#fff" stroke="#222" stroke-width="0.7"/>
<text x="500.55" y="168.7" textLength="12.8" lengthAdjust="spacing">BHA</text>
<polygon points="519.7,164.8 522,169.2 517.4,169.2" fill="#fff" stroke="#111" stroke-width="0.7"/>
<text x="522.95" y="168.7" textLength="9.2" lengthAdjust="spacing">VC</text>
</g>
</svg>
</body>
</html>
